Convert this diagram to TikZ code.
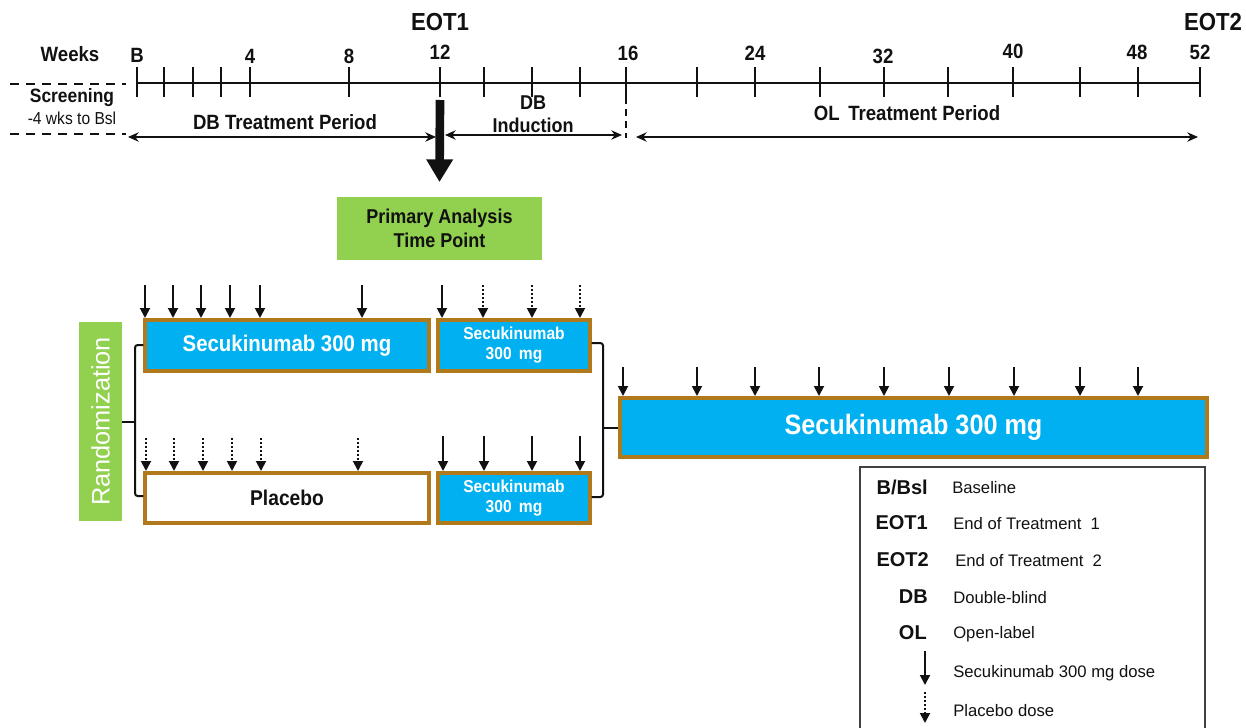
\documentclass[tikz,border=0pt]{standalone}
\usepackage{fontspec}
\setmainfont{Liberation Sans}
\newfontfamily\narrowf[FakeStretch=0.9]{Liberation Sans}
\usetikzlibrary{arrows.meta}
\definecolor{cyanbox}{HTML}{00B0F0}
\definecolor{goldb}{HTML}{B07A1C}
\definecolor{greenb}{HTML}{92D050}
\definecolor{ink}{HTML}{111111}
\begin{document}
\begin{tikzpicture}[x=0.75pt,y=-0.75pt,
  lbl/.style={inner sep=0pt,font=\narrowf\bfseries\fontsize{15.5}{18}\selectfont,text=ink},
  eot/.style={inner sep=0pt,font=\narrowf\bfseries\fontsize{18.5}{22}\selectfont,text=ink},
  axis/.style={line width=1.5pt,ink},
  tck/.style={line width=1.5pt,ink},
  dashl/.style={line width=1.5pt,dash pattern=on 7pt off 5pt,ink},
  span/.style={line width=1.2pt,ink,{Stealth[length=8pt,width=7pt]}-{Stealth[length=8pt,width=7pt]}},
  dose/.style={line width=1.4pt,ink,-{Triangle[length=7.5pt,width=7.5pt]}},
  pdose/.style={line width=1.4pt,ink,dash pattern=on 1.6pt off 1.4pt,-{Triangle[length=7.5pt,width=7.5pt]}},
  cbox/.style={draw=goldb,line width=2.6pt,fill=cyanbox,text=white,inner sep=0pt,align=center},
  wbox/.style={draw=goldb,line width=2.6pt,fill=white,text=ink,inner sep=0pt,align=center},
  gbox/.style={fill=greenb,inner sep=0pt,align=center},
  brk/.style={line width=1.5pt,ink,rounded corners=2pt},
  legab/.style={inner sep=0pt,anchor=east,font=\bfseries\fontsize{15}{18}\selectfont,text=ink},
  legtx/.style={inner sep=0pt,anchor=west,font=\fontsize{12.5}{15}\selectfont,text=ink}
]
\useasboundingbox (0,0) rectangle (1246,728);

% ---------- timeline ----------
\coordinate (a0) at (137,83);
\coordinate (a1) at (1200,83);
\draw[axis] (a0) -- (a1);
\foreach \x in {137,164,193,221,250,349,440,484,532,580,626,697,755,820,884,948,1013,1080,1138,1200}
  \draw[tck] (\x,67) -- (\x,97);
\node[lbl] (weeks) at (70,54) {Weeks};
\node[lbl] (nB) at (137,55) {B};
\node[lbl] (n4) at (250,56) {4};
\node[lbl] (n8) at (349,56) {8};
\node[lbl] (n12) at (440,52) {12};
\node[lbl] (n16) at (628,53) {16};
\node[lbl] (n24) at (755,53) {24};
\node[lbl] (n32) at (883,56) {32};
\node[lbl] (n40) at (1013,51) {40};
\node[lbl] (n48) at (1137,52) {48};
\node[lbl] (n52) at (1200,52) {52};
\node[eot] (eot1) at (440,22) {EOT1};
\node[eot] (eot2) at (1213,22) {EOT2};

% screening
\draw[dashl] (10,84) -- (126,84);
\draw[dashl] (10,134) -- (126,134);
\node[lbl,font=\narrowf\bfseries\fontsize{14.5}{17}\selectfont] (scr) at (72,98) {Screening};
\node[inner sep=0pt,font=\narrowf\fontsize{13}{15}\selectfont,text=ink] (scr2) at (72,118) {-4 wks to Bsl};

% periods
\coordinate (dbL) at (128,137);
\coordinate (dbR) at (436,137);
\draw[span] (dbL) -- (dbR);
\node[lbl] (dbtp) at (285,122) {DB Treatment Period};
\coordinate (inL) at (445,135);
\coordinate (inR) at (622,135);
\draw[span] (inL) -- (inR);
\node[lbl,align=center,font=\narrowf\bfseries\fontsize{15}{17}\selectfont] (dbin) at (533,114) {DB\\Induction};
\draw[line width=1.2pt,ink,dash pattern=on 5pt off 4pt] (626,97) -- (626,138);
\coordinate (olL) at (636,137);
\coordinate (olR) at (1198,137);
\draw[span] (olL) -- (olR);
\node[lbl] (oltp) at (907,113) {OL\, Treatment Period};

% primary analysis
\node[gbox,minimum width=153.75pt,minimum height=47.25pt,font=\narrowf\bfseries\fontsize{15}{18}\selectfont,text=ink] (pa) at (439.5,228.5) {Primary Analysis\\Time Point};
\coordinate (bigS) at (440,100);
\draw[line width=6.5pt,ink,-{Triangle[length=17pt,width=19pt]}] (bigS) -- ([yshift=11pt]pa.north);

% ---------- treatment boxes ----------
\node[cbox,minimum width=213pt,minimum height=38.25pt,font=\narrowf\bfseries\fontsize{17}{19}\selectfont] (s1) at (287,345.5) {Secukinumab 300 mg};
\node[cbox,minimum width=114pt,minimum height=38.25pt,font=\narrowf\bfseries\fontsize{13}{15}\selectfont] (s2) at (514,345.5) {Secukinumab\\300\, mg};
\node[wbox,minimum width=213pt,minimum height=37.5pt,font=\narrowf\bfseries\fontsize{16}{19}\selectfont] (pl) at (287,498) {Placebo};
\node[cbox,minimum width=114pt,minimum height=37.5pt,font=\narrowf\bfseries\fontsize{13}{15}\selectfont] (s4) at (514,498) {Secukinumab\\300\, mg};
\node[cbox,minimum width=440.25pt,minimum height=44.25pt,font=\narrowf\bfseries\fontsize{21}{24}\selectfont] (big) at (913.5,427.5) {Secukinumab 300 mg};
\node[gbox,rotate=90,minimum width=149.25pt,minimum height=32.25pt,text=white,font=\fontsize{19}{22}\selectfont] (rand) at (100.5,421.5) {Randomization};

% dose arrows
\foreach \x in {145,173,201,230,260,362,442} \draw[dose] (\x,285) -- (\x,318);
\foreach \x in {483,532,580} \draw[pdose] (\x,285) -- (\x,318);
\foreach \x in {146,174,203,232,261,358} \draw[pdose] (\x,438) -- (\x,471);
\foreach \x in {443,484,532,580} \draw[dose] (\x,436) -- (\x,471);
\foreach \x in {623,697,755,819,884,949,1014,1080,1138} \draw[dose] (\x,367) -- (\x,396);

% brackets
\draw[brk] (s1.west |- 0,345) -- (135,345) -- (135,496) -- (pl.west |- 0,496);
\draw[brk] (135,421.5) -- (rand.south);
\draw[brk] (s2.east |- 0,343) -- (603,343) -- (603,497) -- (s4.east |- 0,497);
\draw[brk] (603,427.5) -- (big.west);

% ---------- legend ----------
\draw[line width=1pt,ink!80] (860,740) -- (860,467) -- (1205,467) -- (1205,740);
\node[legab] (lB) at (928,487) {B/Bsl};
\node[legtx] (tB) at (952,488) {Baseline};
\node[legab] (lE1) at (928,523) {EOT1};
\node[legtx] (tE1) at (953,524) {End of Treatment\ \ 1};
\node[legab] (lE2) at (929,560) {EOT2};
\node[legtx] (tE2) at (955,561) {End of Treatment\ \ 2};
\node[legab] (lDB) at (928,597) {DB};
\node[legtx] (tDB) at (953,598) {Double-blind};
\node[legab] (lOL) at (927,633) {OL};
\node[legtx] (tOL) at (953,634) {Open-label};
\coordinate (la1) at (925,651);
\draw[dose] (la1) -- (925,685);
\node[legtx] (tSd) at (953,673) {Secukinumab\ 300\ mg dose};
\coordinate (la2) at (925,692);
\draw[pdose] (la2) -- (925,723);
\node[legtx] (tPd) at (953,711) {Placebo dose};
\end{tikzpicture}
\end{document}
